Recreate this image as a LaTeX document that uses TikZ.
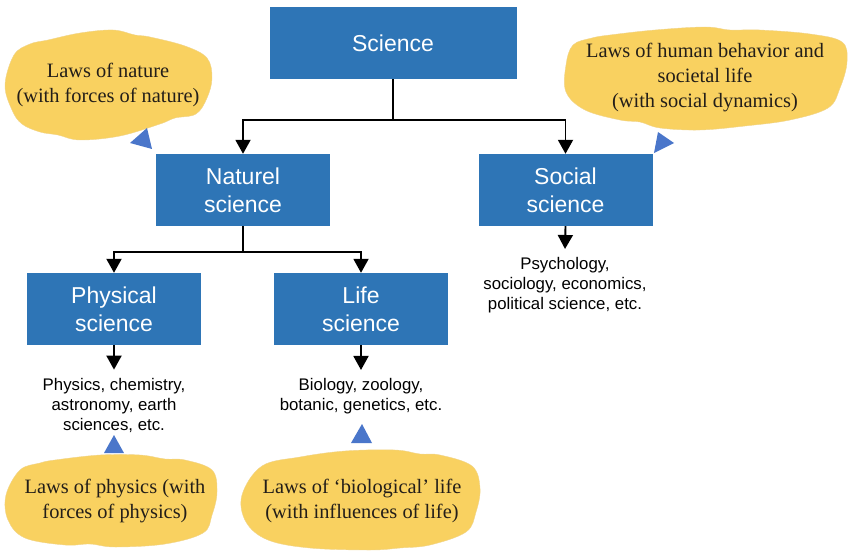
\documentclass[tikz,border=0pt]{standalone}
\usepackage{fontspec}
\setmainfont{Liberation Serif}
\setsansfont{Liberation Sans}
\usetikzlibrary{positioning}
\usetikzlibrary{arrows.meta}

\definecolor{boxblue}{RGB}{46,117,182}
\definecolor{tipblue}{RGB}{74,118,202}
\definecolor{cloudgold}{RGB}{249,209,96}
\definecolor{cloudedge}{RGB}{240,212,140}
\definecolor{lawtext}{RGB}{35,30,25}

\begin{document}
\begin{tikzpicture}[x=1pt, y=-1pt]
  \tikzstyle{field}=[rectangle, fill = boxblue, text = white, align = center, minimum width = 174pt, minimum height = 72pt, font = \sffamily\fontsize{23}{28}\selectfont]
  \tikzstyle{examples}=[align = center, inner xsep = 2pt, inner ysep = 8pt, font = \sffamily\fontsize{16.8}{20}\selectfont]
  \tikzstyle{law}=[align = center, inner sep = 0pt, text = lawtext, font = \rmfamily\fontsize{20.4}{25}\selectfont]
  \tikzstyle{cloud}=[fill = cloudgold, draw = cloudedge, thin]
  \tikzstyle{pointer}=[fill = tipblue]
  \tikzstyle{connect}=[-{Triangle[width = 15pt, length = 14pt]}, line width = 1.9pt]

  \useasboundingbox (0,0) rectangle (850,553);

  % clouds behind everything
  \draw[cloud] plot[smooth cycle, tension = 0.6] coordinates
    {(14,55) (30,44) (48,40) (80,33) (113,30) (135,35) (150,37) (185,46) (207,58) (212,78)
     (207,98) (196,114) (175,118) (160,124) (120,136) (80,140) (58,135) (40,132) (22,124) (12,110) (5,85)};
  \draw[cloud] plot[smooth cycle, tension = 0.6] coordinates
    {(573,45) (592,38) (610,35) (655,30) (705,27) (730,30) (760,30) (810,34) (842,42) (847,62)
     (840,88) (828,108) (790,120) (745,126) (700,130) (660,128) (640,122) (620,120)
     (585,110) (566,92) (566,65)};
  \draw[cloud] plot[smooth cycle, tension = 0.6] coordinates
    {(20,470) (40,463) (55,460) (100,455) (140,455) (165,459) (185,460) (212,470) (217,492)
     (212,515) (203,533) (165,544) (115,547) (90,544) (65,545) (25,538) (8,520) (6,495)};
  \draw[cloud] plot[smooth cycle, tension = 0.6] coordinates
    {(262,466) (300,457) (345,451) (395,450) (420,454) (440,455) (472,466) (480,488)
     (476,512) (466,532) (430,545) (400,548) (370,550) (310,548) (268,540) (246,522)
     (242,495)};

  % boxes
  \node[field, minimum width = 247pt] (science) at (393,43) {Science};
  \node[field] (naturel) at (243,190) {Naturel\\science};
  \node[field] (social) at (565.5,190) {Social\\science};
  \node[field] (physical) at (114,309) {Physical\\science};
  \node[field] (life) at (361,309) {Life\\science};

  % examples under the boxes
  \node[examples] (physlist) at (114,405) {Physics, chemistry,\\astronomy, earth\\sciences, etc.};
  \node[examples] (lifelist) at (361,396) {Biology, zoology,\\botanic, genetics, etc.};
  \node[examples] (soclist) at (565,285) {Psychology,\\sociology, economics,\\political science, etc.};

  % laws
  \node[law] (lawnature) at (108,85) {Laws of nature\\(with forces of nature)};
  \node[law] (lawsocial) at (705,78) {Laws of human behavior and\\societal life\\(with social dynamics)};
  \node[law] (lawphys) at (115,501) {Laws of physics (with\\forces of physics)};
  \node[law] (lawlife) at (362,501) {Laws of `biological' life\\(with influences of life)};

  % tree
  \draw[connect] (science.south) -- ++(0,41) -| (naturel.north);
  \draw[connect] (science.south) -- ++(0,41) -| (social.north);
  \draw[connect] (naturel.south) -- ++(0,26) -| (physical.north);
  \draw[connect] (naturel.south) -- ++(0,26) -| (life.north);
  \draw[connect] (physical.south) -- (physlist.north);
  \draw[connect] (life.south) -- (lifelist.north);
  \draw[connect] (social.south) -- (soclist.north);

  % small pointers
  \foreach \ax/\ay/\bx/\by/\cx/\cy in
    { 130/143/147/128/152/149
    , 658/132/674/143/654/153
    , 114/435/104/453/124/453
    , 362/424/351/443/372/443
    }
    \fill[pointer] (\ax,\ay) -- (\bx,\by) -- (\cx,\cy) -- cycle;
\end{tikzpicture}
\end{document}
